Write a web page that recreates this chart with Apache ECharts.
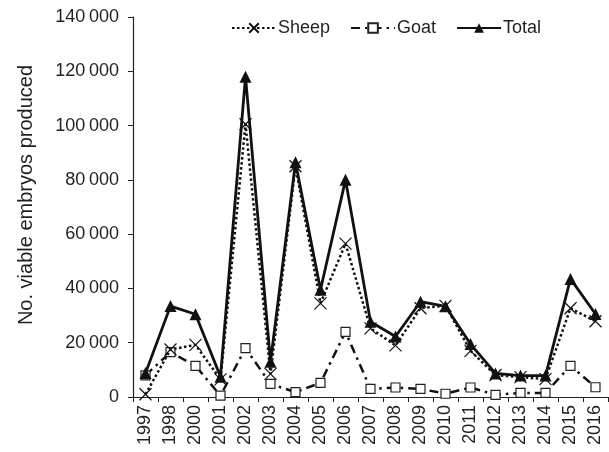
<!DOCTYPE html>
<html>
<head>
<meta charset="utf-8">
<script src="https://cdn.jsdelivr.net/npm/echarts@6/dist/echarts.min.js"></script>
<style>
html,body{margin:0;padding:0;background:#fff;}
#chart{width:609px;height:452px;}
</style>
</head>
<body>
<div id="chart"></div>
<script>
var years = ['1997','1998','2000','2001','2002','2003','2004','2005','2006','2007','2008','2009','2010','2011','2012','2013','2014','2015','2016'];
var sheep = [1000, 17500, 19200, 6500, 100500, 8500, 85000, 34500, 56500, 25300, 19000, 32700, 33600, 17000, 8100, 7300, 6600, 32700, 27900];
var goat = [8000, 16500, 11500, 500, 18000, 4800, 1800, 5200, 24000, 3000, 3500, 3000, 1200, 3500, 800, 1500, 1500, 11500, 3600];
var total = [8800, 33500, 30500, 7500, 118000, 13000, 86500, 39500, 80000, 27700, 22300, 35100, 33400, 19500, 8700, 7900, 7900, 43500, 30600];
var yTicks = [0, 20000, 40000, 60000, 80000, 100000, 120000, 140000];

var FONT = '"Liberation Sans", Arial, sans-serif';
var TXT = '#231f20';

function fmt(v){
  var s = String(v);
  if (s.length > 3) s = s.slice(0, s.length - 3) + '\u2009' + s.slice(s.length - 3);
  return s;
}

var chart = echarts.init(document.getElementById('chart'));
chart.setOption({
  animation: false,
  backgroundColor: '#fff',
  textStyle: {fontFamily: FONT, color: TXT},
  grid: {left: 133, right: 1, top: 17, bottom: 55, containLabel: false},
  legend: {
    left: 226, top: 14,
    itemWidth: 44, itemHeight: 12, itemGap: 20,
    textStyle: {fontSize: 18, color: TXT, fontFamily: FONT, padding: [0,0,0,-3]},
    data: ['Sheep', 'Goat', 'Total']
  },
  xAxis: {
    type: 'category',
    data: years,
    boundaryGap: true,
    axisLine: {show: true, lineStyle: {color: '#222', width: 1.2}},
    axisTick: {show: true, interval: 0, length: 5, inside: false, lineStyle: {color: '#222'}},
    axisLabel: {interval: 0, rotate: 90, fontSize: 18, color: TXT, margin: 8, fontFamily: FONT},
    splitLine: {show: false}
  },
  yAxis: {
    type: 'value',
    min: yTicks[0], max: yTicks[yTicks.length - 1], interval: yTicks[1] - yTicks[0],
    name: 'No. viable embryos produced',
    nameLocation: 'middle', nameRotate: 90, nameGap: 97,
    nameTextStyle: {fontSize: 20, color: TXT, fontFamily: FONT, padding: [0, 0, 0, 24]},
    axisLine: {show: true, lineStyle: {color: '#222', width: 1.2}},
    axisTick: {show: true, length: 5, inside: false, lineStyle: {color: '#222'}},
    axisLabel: {fontSize: 18, color: TXT, margin: 14, fontFamily: FONT, formatter: fmt},
    splitLine: {show: false}
  },
  series: [
    {
      name: 'Sheep', type: 'line', data: sheep,
      symbol: 'path://M0,0L10,10M10,0L0,10', symbolSize: 12,
      itemStyle: {color: 'rgba(0,0,0,0)', borderColor: '#111', borderWidth: 1.2},
      lineStyle: {color: '#111', width: 2.5, type: [2.5, 2.5]},
      z: 3
    },
    {
      name: 'Goat', type: 'line', data: goat,
      symbol: 'rect', symbolSize: 9,
      itemStyle: {color: '#fff', borderColor: '#222', borderWidth: 1.2},
      lineStyle: {color: '#111', width: 2.5, type: [9, 5, 2.5, 5]},
      z: 2
    },
    {
      name: 'Total', type: 'line', data: total,
      symbol: 'triangle', symbolSize: 12,
      itemStyle: {color: '#111', borderColor: '#111', borderWidth: 0},
      lineStyle: {color: '#111', width: 2.8, type: 'solid'},
      z: 4
    }
  ]
});
</script>
</body>
</html>
